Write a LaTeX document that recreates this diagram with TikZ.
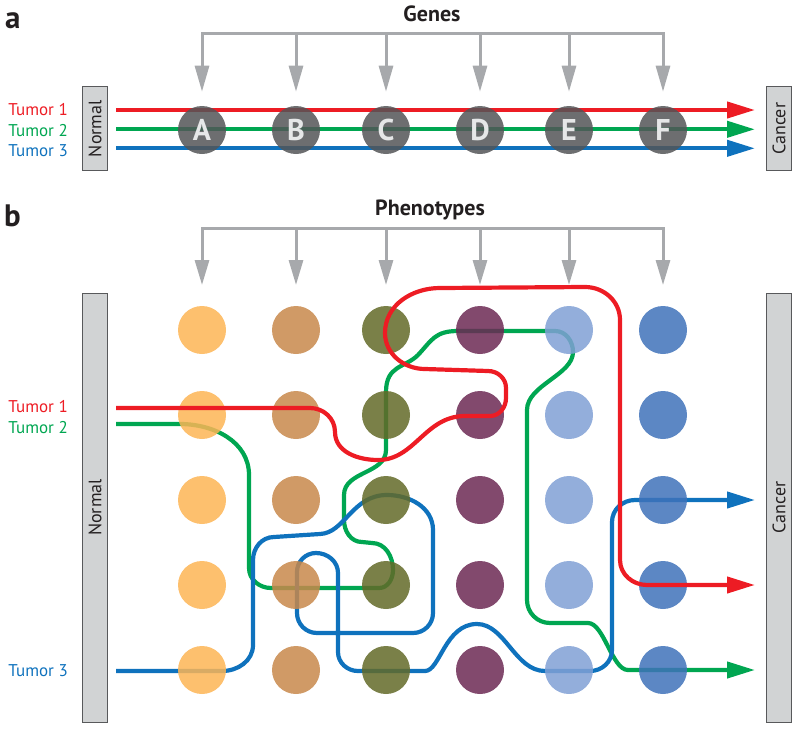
\documentclass[tikz,border=0pt]{standalone}
\usepackage{fontspec}
\setmainfont{PT Sans}
\usetikzlibrary{arrows.meta}
\definecolor{tred}{RGB}{237,28,36}
\definecolor{tgreen}{RGB}{0,166,81}
\definecolor{tblue}{RGB}{15,114,189}
\definecolor{bgray}{RGB}{167,169,172}
\definecolor{boxfill}{RGB}{209,211,212}
\definecolor{boxline}{RGB}{88,89,91}
\definecolor{gcirc}{RGB}{83,85,87}
\definecolor{letter}{RGB}{230,231,232}
\definecolor{ink}{RGB}{35,31,32}
\definecolor{pc1}{RGB}{253,181,85}
\definecolor{pc2}{RGB}{200,136,75}
\definecolor{pc3}{RGB}{99,106,40}
\definecolor{pc4}{RGB}{108,41,84}
\definecolor{pc5}{RGB}{128,160,213}
\definecolor{pc6}{RGB}{63,114,186}
\tikzset{
  gene/.style={circle, minimum size=48pt, inner sep=0pt, fill=gcirc, fill opacity=0.85, text opacity=1, text=letter, font=\fontsize{30}{30}\selectfont\bfseries},
  pheno/.style={circle, minimum size=48pt, inner sep=0pt, fill opacity=0.85},
  tline/.style={line width=4.2pt, -{Triangle[length=28pt,width=16pt]}},
  curvy/.style={line width=4.2pt, line join=round, -{Triangle[length=28pt,width=16pt]}},
  bracketline/.style={draw=bgray, line width=3pt, line cap=rect},
  garrow/.style={draw=bgray, line width=3pt, -{Triangle[length=26pt,width=14pt]}},
  statebox/.style={draw=boxline, fill=boxfill, line width=0.9pt, inner sep=0pt, rotate=90, text=ink, font=\fontsize{18}{18}\selectfont},
  lbl/.style={font=\fontsize{17}{17}\selectfont, anchor=base east, inner sep=0pt},
  heading/.style={font=\fontsize{22}{22}\selectfont\bfseries, text=ink, anchor=base, inner sep=0pt},
  panel/.style={font=\fontsize{31}{31}\selectfont\bfseries, text=ink, anchor=base west, inner sep=0pt}
}
\begin{document}
\begin{tikzpicture}[x=1pt,y=-1pt]
\useasboundingbox (0,0) rectangle (800,731);

% ---------------- panel a ----------------
\node[panel] (la) at (5,28) {a};
\node[heading] (genes) at (432,21.5) {Genes};

\foreach \x [count=\i] in {202,296,386,480,569,663} {
  \coordinate (ha\i) at (\x,33.3);
  \coordinate (ta\i) at (\x,91.7);
  \draw[garrow] (ha\i) -- (ta\i);
}
\draw[bracketline] (ha1) -- (ha6);

\node[statebox, minimum width=84pt, minimum height=24.6pt] (normA) at (95,128.7) {Normal};
\node[statebox, minimum width=84pt, minimum height=24.6pt] (canA) at (779,128.7) {Cancer};

\node[lbl, text=tred] (a1) at (68,115.5) {Tumor 1};
\node[lbl, text=tgreen] (a2) at (68,136) {Tumor 2};
\node[lbl, text=tblue] (a3) at (68,156.5) {Tumor 3};

\coordinate (ra0) at (116,110);   \coordinate (ra1) at (755,110);
\coordinate (ga0) at (116,129.3); \coordinate (ga1) at (755,129.3);
\coordinate (ba0) at (116,148.3); \coordinate (ba1) at (755,148.3);
\draw[tline, tred] (ra0) -- (ra1);
\draw[tline, tgreen] (ga0) -- (ga1);
\draw[tline, tblue] (ba0) -- (ba1);

\foreach \x/\L [count=\i] in {202/A,296/B,386/C,480/D,569/E,663/F} {
  \node[gene] (g\i) at (\x,130) {\L};
}

% ---------------- panel b ----------------
\node[panel] (lb) at (4,226) {b};
\node[heading] (phen) at (430,215.5) {Phenotypes};

\foreach \x [count=\i] in {202,296,386,480,569,663} {
  \coordinate (hb\i) at (\x,228.3);
  \coordinate (tb\i) at (\x,285);
}
\foreach \i in {1,...,6} { \draw[garrow, -{Triangle[length=25pt,width=14pt]}] (hb\i) -- (tb\i); }
\draw[bracketline] (hb1) -- (hb6);

\node[statebox, minimum width=429pt, minimum height=24.6pt] (normB) at (95,507.5) {Normal};
\node[statebox, minimum width=429pt, minimum height=24.6pt] (canB) at (779,507.5) {Cancer};

\node[lbl, text=tred] (b1) at (68,412.5) {Tumor 1};
\node[lbl, text=tgreen] (b2) at (68,433) {Tumor 2};
\node[lbl, text=tblue] (b3) at (68,676) {Tumor 3};

\coordinate (rs) at (116,408);  \coordinate (re) at (755,585);
\coordinate (gs) at (116,424);  \coordinate (ge) at (755,670);
\coordinate (bs) at (116,671);  \coordinate (be) at (755,500);

% green (under circles)
\draw[curvy, tgreen] (gs) -- (180,424) to[out=0,in=90] (249,475) -- (249,568)
  to[out=-90,in=180] (271,588) -- (379,588) to[out=0,in=-90] (393,570)
  to[out=90,in=0] (372,543) -- (362,542) to[out=180,in=-90] (344,520) -- (344,495)
  .. controls (344,471) and (386,474) .. (386,450) -- (386,392)
  .. controls (386,365) and (405,368) .. (418,355)
  .. controls (432,340) and (435,331) .. (458,331) -- (555,331)
  to[out=0,in=90] (573,352)
  .. controls (573,375) and (527,385) .. (527,410) -- (527,600)
  to[out=-90,in=180] (550,623) -- (588,623)
  .. controls (604,623) and (612,670) .. (628,670) -- (ge);

% blue (under circles)
\draw[curvy, tblue] (bs) -- (222,671) to[out=0,in=-90] (253,645) -- (253,560)
  to[out=90,in=180] (274,537) -- (320,534)
  .. controls (345,533) and (352,495) .. (387,495)
  to[out=0,in=90] (433,530) -- (433,613) to[out=-90,in=0] (413,633) -- (317,633)
  to[out=180,in=-90] (297,613) -- (297,572) to[out=90,in=180] (316,553)
  to[out=0,in=90] (338,573) -- (338,652) to[out=-90,in=180] (358,671) -- (425,671)
  .. controls (440,671) and (445,624) .. (477,624)
  .. controls (505,624) and (515,671) .. (545,671) -- (590,671)
  to[out=0,in=-90] (612,650) -- (612,522) to[out=90,in=180] (635,500) -- (be);

% circles
\foreach \x [count=\c] in {202,296,386,480,569,663} {
  \foreach \y [count=\r] in {330,415,500,585,670} {
    \node[pheno, fill=pc\c] (p\c\r) at (\x,\y) {};
  }
}

% red (over circles)
\draw[curvy, tred] (rs) -- (310,408) to[out=0,in=90] (335,432)
  to[out=-90,in=180] (378,460) .. controls (415,460) and (425,416) .. (465,416)
  -- (490,416) to[out=0,in=-90] (506,398) -- (506,388) to[out=90,in=0] (488,371)
  -- (425,369) to[out=180,in=-90] (385,333)
  .. controls (385,305) and (412,288) .. (440,288) -- (585,287)
  to[out=0,in=90] (620,320) -- (620,560) to[out=-90,in=180] (647,585) -- (re);
\end{tikzpicture}
\end{document}
